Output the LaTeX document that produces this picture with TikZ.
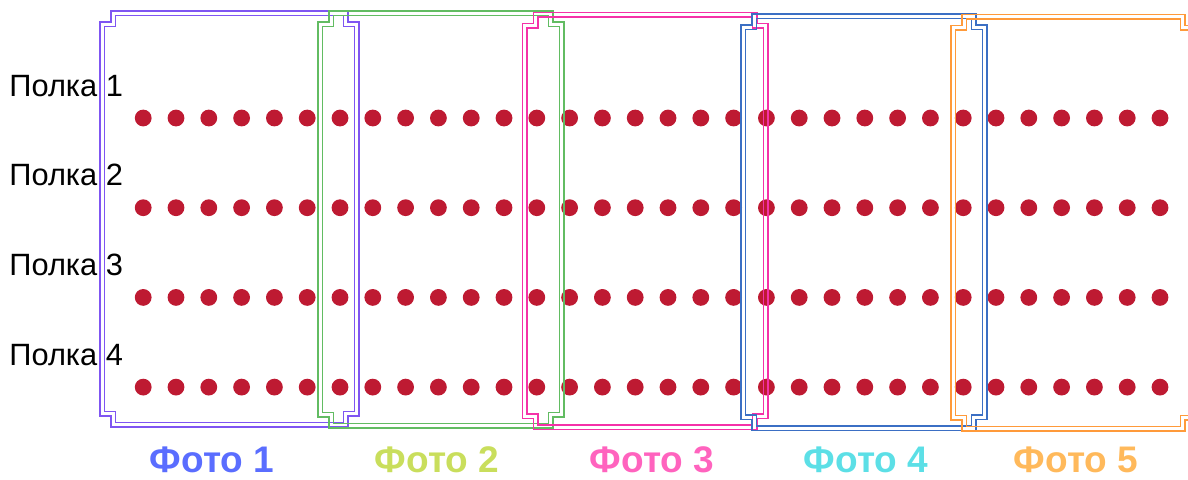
\documentclass[tikz,border=0pt]{standalone}
\usepackage{fontspec}
\setmainfont{Liberation Sans}
\usepackage{xcolor}
\definecolor{dotred}{HTML}{BE1A32}
\definecolor{frameA}{HTML}{7F55F2}
\definecolor{frameB}{HTML}{62BC62}
\definecolor{frameC}{HTML}{F531A8}
\definecolor{frameD}{HTML}{3B6FC4}
\definecolor{frameE}{HTML}{FF9A3A}
\definecolor{fotoA}{HTML}{5A6DFF}
\definecolor{fotoB}{HTML}{C9DE5C}
\definecolor{fotoC}{HTML}{FF63BE}
\definecolor{fotoD}{HTML}{5CDFE6}
\definecolor{fotoE}{HTML}{FFB95B}
\newcommand{\shelfrow}[1]{%
  \foreach \i in {0,...,31}{%
    \fill[dotred] ({143.2+\i*32.8},#1) circle (4.2pt);
  }%
}
\newcommand{\photoframe}[5]{%
  \foreach \inset in {0,4.5}{%
    \draw[#5, line width=0.75pt]
      ({#1+\inset},{#2+\inset+11}) -- ++(11,0) -- ++(0,-11)
      -- ({#3-\inset-11},{#2+\inset}) -- ++(0,11) -- ++(11,0)
      -- ({#3-\inset},{#4-\inset-11}) -- ++(-11,0) -- ++(0,11)
      -- ({#1+\inset+11},{#4-\inset}) -- ++(0,-11) -- ++(-11,0) -- cycle;
  }%
}

\begin{document}
\begin{tikzpicture}[x=0.5pt, y=-0.5pt,
  shelf/.style={anchor=base west, inner sep=0pt, font=\fontsize{15.4}{18}\selectfont},
  photo/.style={anchor=base, inner sep=0pt, font=\fontsize{18.5}{22}\selectfont\bfseries}]
  \useasboundingbox (0,0) rectangle (1188,479);
  \foreach \j in {0,...,3}{%
    \shelfrow{118+\j*89.7}
  }
  \photoframe{100}{11}{359}{427}{frameA}
  \photoframe{318}{11}{564}{428}{frameB}
  \photoframe{522.7}{12.5}{768}{429.3}{frameC}
  \photoframe{741}{14}{987}{430.5}{frameD}
  \photoframe{951}{14.5}{1196}{431}{frameE}
  \foreach \j in {1,...,4}{%
    \node[shelf] (shelf\j) at (9,{96+(\j-1)*89.7}) {Полка \j};
  }
  \foreach \k/\x/\c in {1/212/fotoA, 2/437/fotoB, 3/652/fotoC, 4/866/fotoD, 5/1076/fotoE}{%
    \node[photo, text=\c] (photo\k) at (\x,472) {Фото \k};
  }
\end{tikzpicture}
\end{document}
